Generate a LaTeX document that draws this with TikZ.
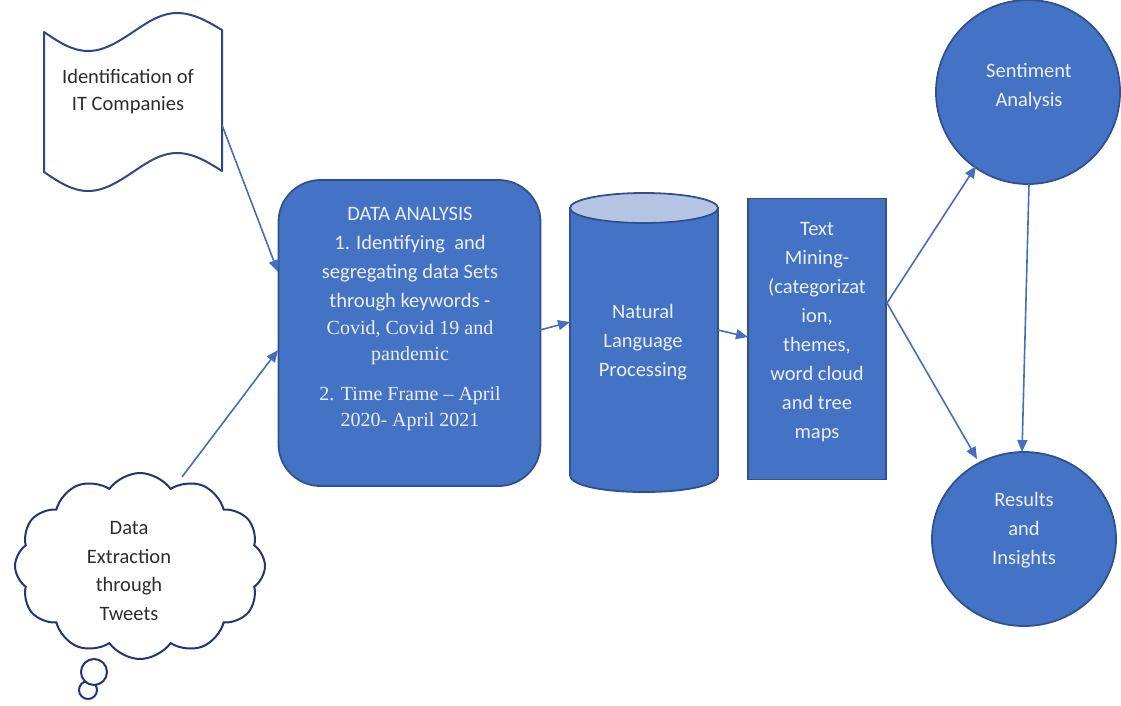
\documentclass[tikz,border=0pt]{standalone}
\usepackage{fontspec}
\setmainfont{Carlito}
\newfontfamily\serifface[Ligatures=TeX]{Liberation Serif}
\usetikzlibrary{arrows.meta,shapes.symbols,shapes.geometric}
\definecolor{boxblue}{RGB}{68,114,196}
\definecolor{boxedge}{RGB}{47,82,143}
\definecolor{cyltop}{RGB}{182,196,228}
\definecolor{arrowblue}{RGB}{68,110,190}
\definecolor{tapeedge}{RGB}{45,72,138}
\definecolor{cloudedge}{RGB}{30,55,120}
\definecolor{lighttext}{RGB}{236,239,246}
\definecolor{darktext}{RGB}{45,45,45}
\tikzset{
  blueshape/.style={fill=boxblue,draw=boxedge,line width=1.8pt},
  whitetxt/.style={text=lighttext,align=center,inner sep=0pt,font=\fontsize{20.5}{29}\selectfont},
  serftxt/.style={text=lighttext,align=center,inner sep=0pt,font=\serifface\fontsize{20}{26}\selectfont},
  darktxt/.style={text=darktext,align=center,inner sep=0pt,font=\fontsize{20.5}{27}\selectfont},
  flow/.style={draw=arrowblue,line width=1.6pt,-{Triangle[length=12pt,width=10pt]}},
}
\begin{document}
\begin{tikzpicture}[x=1pt,y=-1pt]
\useasboundingbox (0,0) rectangle (1121,705);
% tape / scroll
\draw[tapeedge,line width=2pt,fill=white,line join=round]
  (44,32) sin (88,51) cos (133,32) sin (177,13) cos (222,30)
  -- (222,171) sin (177,153) cos (133,172) sin (88,191) cos (44,172) -- cycle;
\node[darktxt] (tape) at (128,92) {Identification of\\IT Companies};
\coordinate (tapeR) at (222,125);
% cloud with bubbles
\draw[cloudedge,line width=2pt,fill=white] (88,690) circle[radius=9];
\draw[cloudedge,line width=2pt,fill=white] (94,672) circle[radius=13];
\node[cloud,cloud puffs=12,cloud puff arc=110,aspect=1.3,minimum width=250pt,minimum height=186pt,
      draw=cloudedge,line width=2pt,fill=white] (cloud) at (140,566) {};
\node[darktxt,font=\fontsize{20.5}{28.5}\selectfont] (cloudtxt) at (129,571) {Data\\Extraction\\through\\Tweets};
\coordinate (cloudT) at (182,477);
% data analysis
\node[blueshape,rounded corners=42pt,minimum width=262pt,minimum height=306pt,inner sep=0pt] (da) at (409.5,333) {};
\node[whitetxt] (da1) at (410,259) {DATA ANALYSIS\\1. Identifying~ and\\segregating data Sets\\through keywords -};
\node[serftxt] (da2) at (410,343) {Covid, Covid 19 and\\pandemic};
\node[serftxt] (da3) at (410,409) {2. Time Frame \textendash{} April\\2020- April 2021};
% cylinder
\draw[blueshape] (570,208) -- (570,475) .. controls (570,497.7) and (718,497.7) .. (718,475) -- (718,208) -- cycle;
\draw[draw=boxedge,line width=1.8pt,fill=cyltop] (644,208) ellipse[x radius=74,y radius=15];
\node[whitetxt] (nlp) at (643,342) {Natural\\Language\\Processing};
% text mining
\node[blueshape,minimum width=138pt,minimum height=281pt,inner sep=0pt] (tm) at (817,339) {};
\node[whitetxt] (tmt) at (817,332) {Text\\Mining-\\(categorizat\\ion,\\themes,\\word cloud\\and tree\\maps};
% circles
\node[blueshape,ellipse,minimum width=184pt,minimum height=184pt,inner sep=0pt] (sa) at (1028,92) {};
\node[whitetxt] (sat) at (1029,87) {Sentiment\\Analysis};
\node[blueshape,ellipse,minimum width=184pt,minimum height=174pt,inner sep=0pt] (ri) at (1024,539) {};
\node[whitetxt] (rit) at (1024,530) {Results\\and\\Insights};
% connectors
\coordinate (daL1) at (278,272);
\coordinate (daL2) at (278,350);
\coordinate (daR) at (540,330);
\coordinate (cylL) at (570,322);
\coordinate (cylR) at (718,330);
\coordinate (tmL) at (748,337);
\coordinate (tmR) at (887,303);
\coordinate (saB) at (1029,184);
\coordinate (saBL) at (976,166);
\coordinate (riT) at (1022,452);
\coordinate (riTL) at (977,459);
\draw[flow] (tapeR) -- (daL1);
\draw[flow] (cloudT) -- (daL2);
\draw[flow] (daR) -- (cylL);
\draw[flow] (cylR) -- (tmL);
\draw[flow] (tmR) -- (saBL);
\draw[flow] (tmR) -- (riTL);
\draw[flow] (saB) -- (riT);
\end{tikzpicture}
\end{document}
